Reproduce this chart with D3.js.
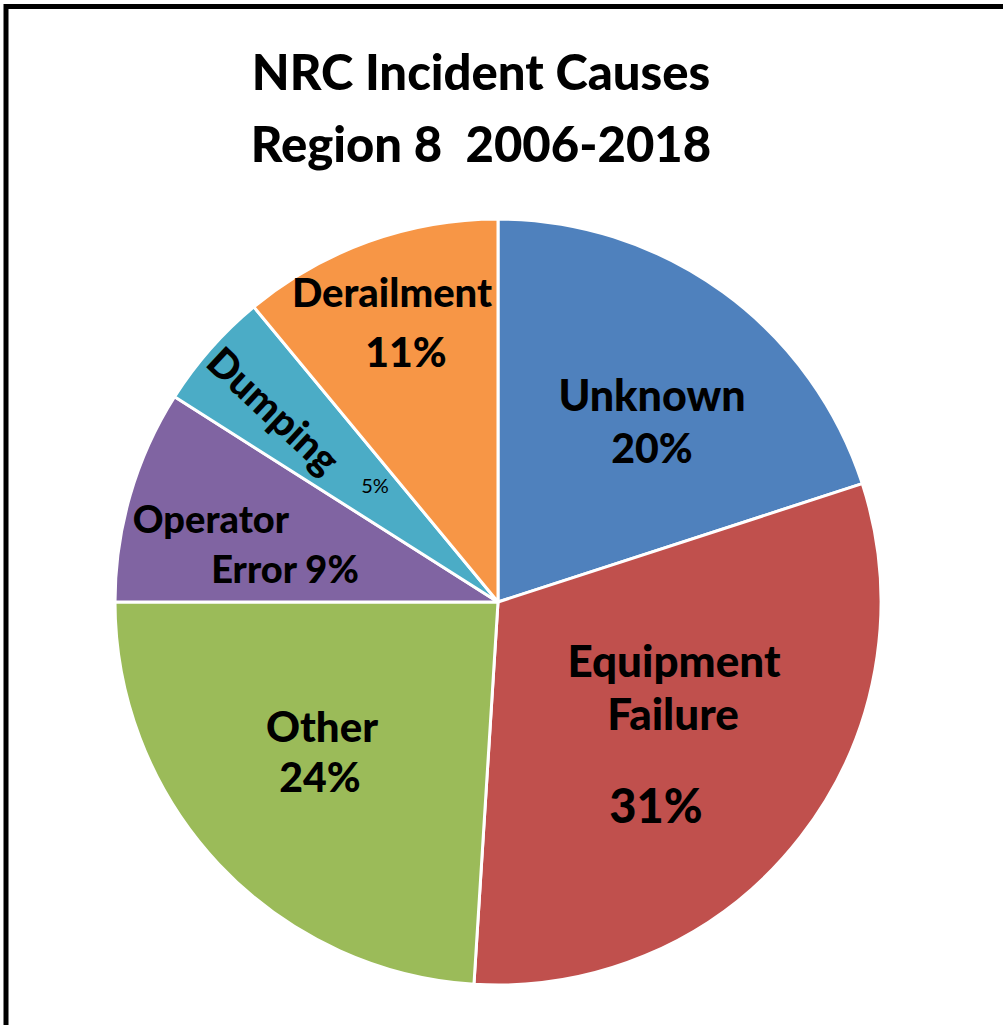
<!DOCTYPE html>
<html>
<head>
<meta charset="utf-8">
<script src="https://cdn.jsdelivr.net/npm/d3@7"></script>
<style>
  body { margin: 0; background: #fff; }
  text { font-family: Lato, "Open Sans", sans-serif; font-weight: 900; fill: #000; }
</style>
</head>
<body>
<script>
// data, clockwise from 12 o'clock
let causes = ['Unknown', 'Equipment Failure', 'Other', 'Operator Error', 'Dumping', 'Derailment'];
let shares = [20, 31, 24, 9, 5, 11];
let colors = ['#4f81bd', '#c0504d', '#9bbb59', '#8064a2', '#4bacc6', '#f79646'];
let titleLines = ['NRC Incident Causes', 'Region 8  2006-2018'];

let w = 1003;
let h = 1025;
let svg = d3.select('body').append('svg')
  .attr('width', w)
  .attr('height', h);

// frame: only the left and top edges show in the picture
svg.append('path')
  .attr('d', `M6,${h} L6,6.5 L${w},6.5`)
  .attr('fill', 'none')
  .attr('stroke', '#000')
  .attr('stroke-width', 5);

// title
svg.selectAll('.title')
  .data(titleLines)
  .enter()
    .append('text')
    .classed('title', true)
    .attr('x', 481)
    .attr('y', (d, i) => 90 + i * 72)
    .attr('text-anchor', 'middle')
    .attr('font-size', 49)
    .style('white-space', 'pre')
    .text(d => d);

// pie
let cx = 498, cy = 602, r = 383;
let data = causes.map((c, i) => ({ cause: c, share: shares[i], color: colors[i] }));
let pie = d3.pie().sort(null).value(d => d.share);
let arc = d3.arc().innerRadius(0).outerRadius(r);

let g = svg.append('g').attr('transform', `translate(${cx},${cy})`);
g.selectAll('.slice')
  .data(pie(data))
  .enter()
    .append('path')
    .classed('slice', true)
    .attr('d', arc)
    .attr('fill', d => d.data.color)
    .attr('stroke', '#fff')
    .attr('stroke-width', 3)
    .attr('stroke-linejoin', 'round');

// labels, placed by hand like the original slide
let labels = [
  { t: 'Unknown', x: 652, y: 411, s: 43 },
  { t: '20%', x: 652, y: 463, s: 41 },
  { t: 'Equipment', x: 674, y: 677, s: 44 },
  { t: 'Failure', x: 673, y: 730, s: 44 },
  { t: '31%', x: 656, y: 823, s: 47 },
  { t: 'Other', x: 322, y: 742, s: 42 },
  { t: '24%', x: 320, y: 792, s: 41 },
  { t: 'Operator', x: 211, y: 533, s: 38 },
  { t: 'Error 9%', x: 285, y: 583, s: 38 },
  { t: 'Derailment', x: 392, y: 307, s: 40 },
  { t: '11%', x: 406, y: 367, s: 41 }
];
svg.selectAll('.lbl')
  .data(labels)
  .enter()
    .append('text')
    .classed('lbl', true)
    .attr('x', d => d.x)
    .attr('y', d => d.y)
    .attr('text-anchor', 'middle')
    .attr('font-size', d => d.s)
    .text(d => d.t);

// rotated label in the thin slice
svg.append('text')
  .attr('transform', 'translate(274,410) rotate(43)')
  .attr('text-anchor', 'middle')
  .attr('dominant-baseline', 'central')
  .attr('font-size', 40)
  .text('Dumping');

svg.append('text')
  .attr('x', 375)
  .attr('y', 493)
  .attr('text-anchor', 'middle')
  .attr('font-size', 20)
  .style('font-weight', 400)
  .text('5%');
</script>
</body>
</html>
